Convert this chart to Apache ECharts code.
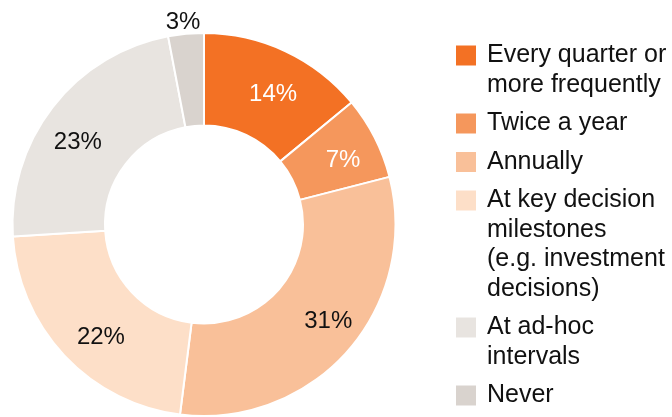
<!DOCTYPE html>
<html>
<head>
<meta charset="utf-8">
<script src="https://cdn.jsdelivr.net/npm/echarts@6/dist/echarts.min.js"></script>
<style>
  html, body { margin: 0; padding: 0; background: #fff; }
  #chart { width: 672px; height: 417px; }
</style>
</head>
<body>
<div id="chart"></div>
<script>
// categories (line breaks as in the legend)
const categories = [
  'Every quarter or\nmore frequently',
  'Twice a year',
  'Annually',
  'At key decision\nmilestones\n(e.g. investment\ndecisions)',
  'At ad-hoc\nintervals',
  'Never'
];
// share of respondents, %
const shares = [14, 7, 31, 22, 23, 3];

const colors = ['#F37124', '#F5975C', '#F9C099', '#FDDFC8', '#E8E4E0', '#D9D3CE'];
const labelColors = ['#fff', '#fff', '#111', '#111', '#111', '#111'];
// label nudges from the ring middle: padding [top, right, bottom, left]
const labelPads = [
  [8, 0, 0, 12],
  [6, 0, 0, 14],
  [0, 0, 3, 26],
  [22, 0, 0, 10],
  [18, 18, 0, 0],
  [0, 14, 110, 0]
];

const FONT = '"Liberation Sans", Arial, Helvetica, sans-serif';
const LINE_H = 29.5;   // legend line height
const ITEM_STEP = 38.5; // last line of one legend item -> first line of next
const SWATCH = 22;

const chart = echarts.init(document.getElementById('chart'));

// one legend block per category so the swatch sits level with the first line
const legends = [];
let swatchMid = 54.5;
categories.forEach((name, i) => {
  const n = name.split('\n').length;
  const h = n * LINE_H;
  const sq = LINE_H / 2 - SWATCH / 2;
  legends.push({
    orient: 'vertical',
    left: 454,
    top: swatchMid - LINE_H / 2,
    padding: 0,
    itemWidth: SWATCH,
    itemHeight: h,
    selectedMode: false,
    icon: `path://M0,0h0.01v0.01h-0.01z M0,${sq}h${SWATCH}v${SWATCH}h-${SWATCH}z M${SWATCH - 0.01},${h}h0.01v-0.01h-0.01z`,
    data: [name],
    textStyle: {
      color: '#111',
      fontSize: 25,
      fontFamily: FONT,
      lineHeight: LINE_H,
      padding: [0, 0, 0, 5],
    },
  });
  swatchMid += (n - 1) * LINE_H + ITEM_STEP;
});

const option = {
  animation: false,
  legend: legends,
  series: [
    {
      type: 'pie',
      center: [204, 224.5],
      radius: [99, 191.5],
      startAngle: 90,
      clockwise: true,
      avoidLabelOverlap: false,
      itemStyle: {
        borderColor: '#fff',
        borderWidth: 2,
      },
      label: {
        show: true,
        position: 'inside',
        formatter: '{v|{c}%}',
      },
      labelLine: { show: false },
      emphasis: { disabled: true },
      data: categories.map((name, i) => ({
        name: name,
        value: shares[i],
        itemStyle: { color: colors[i] },
        label: {
          rich: {
            v: {
              color: labelColors[i],
              fontSize: 24,
              fontFamily: FONT,
              padding: labelPads[i],
            },
          },
        },
      })),
    },
  ],
};

chart.setOption(option);
</script>
</body>
</html>
